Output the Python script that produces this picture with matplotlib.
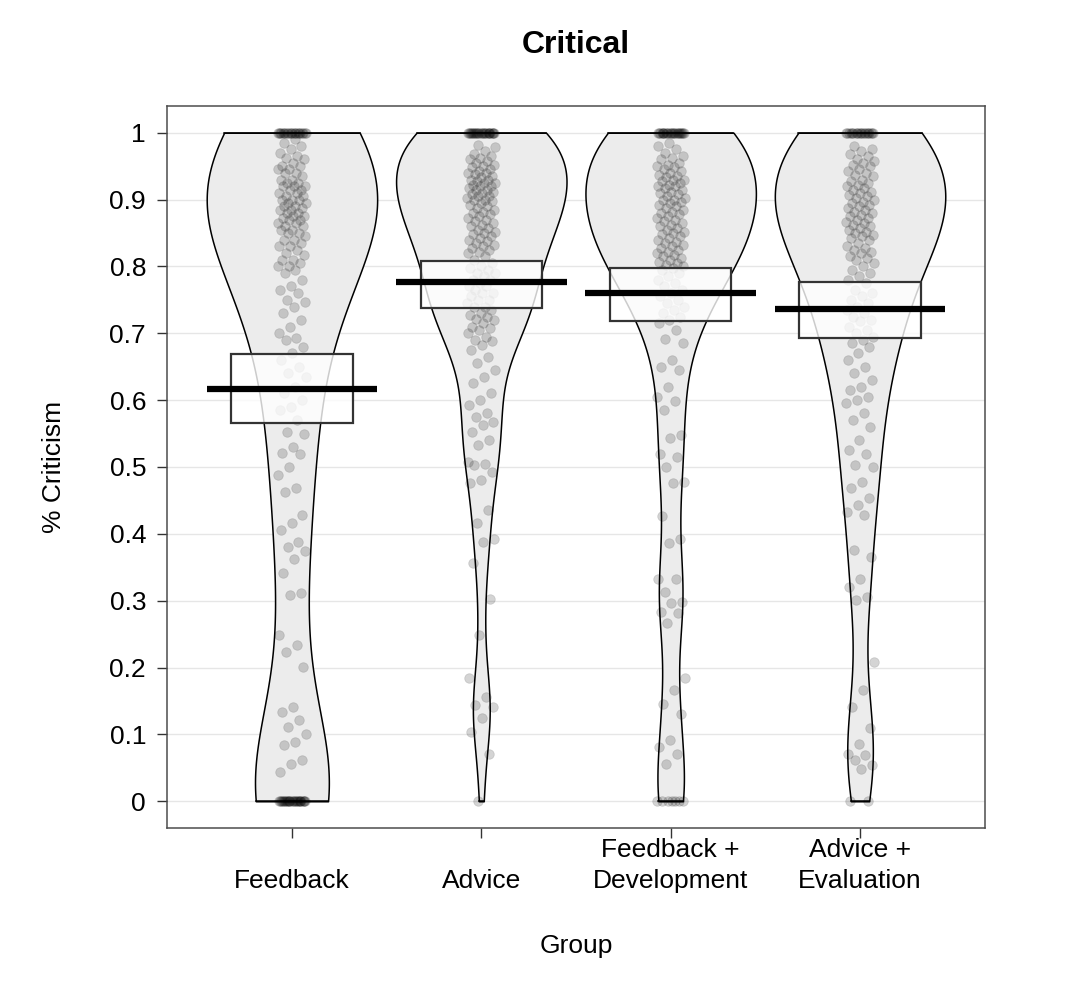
import numpy as np
import matplotlib
matplotlib.use("Agg")
import matplotlib.pyplot as plt

plt.rcParams['font.family'] = ['Liberation Sans', 'DejaVu Sans']

groups = ["Feedback", "Advice", "Feedback +\nDevelopment", "Advice +\nEvaluation"]

# proportion of criticism per response
feedback = [1.0] * 22 + [
    0.99, 0.985, 0.98, 0.975, 0.97, 0.965, 0.962, 0.96, 0.955, 0.95, 0.95, 0.945,
    0.945, 0.94, 0.94, 0.935, 0.93, 0.93, 0.925, 0.925, 0.92, 0.92, 0.92, 0.915,
    0.915, 0.91, 0.91, 0.905, 0.905, 0.90, 0.90, 0.90, 0.895, 0.895, 0.89, 0.89,
    0.888, 0.885, 0.885, 0.88, 0.88, 0.875, 0.875, 0.873, 0.87, 0.87, 0.865, 0.865,
    0.86, 0.86, 0.855, 0.855, 0.85, 0.85, 0.845, 0.84, 0.84, 0.835, 0.83, 0.83,
    0.825, 0.82, 0.817, 0.81, 0.81, 0.805, 0.80, 0.80, 0.795,
    0.79, 0.78, 0.77, 0.765, 0.76, 0.75, 0.747, 0.74, 0.73, 0.72, 0.71, 0.70,
    0.693, 0.69, 0.68, 0.67, 0.66, 0.65, 0.64, 0.635, 0.62, 0.61,
    0.60, 0.59, 0.585, 0.57, 0.553, 0.55, 0.53, 0.521, 0.52, 0.50,
    0.488, 0.468, 0.463, 0.428, 0.416, 0.406, 0.388, 0.381, 0.375, 0.362, 0.342,
    0.311, 0.309, 0.249, 0.234, 0.224, 0.201, 0.141, 0.134, 0.121, 0.111, 0.101,
    0.089, 0.084, 0.061, 0.056, 0.044] + [0.0] * 28

advice = [1.0] * 26 + [
    0.982, 0.978, 0.972, 0.968, 0.965, 0.962, 0.96, 0.958, 0.955, 0.952, 0.95, 0.948,
    0.945, 0.943, 0.94, 0.94, 0.938, 0.935, 0.933, 0.93, 0.93, 0.928, 0.925, 0.925,
    0.922, 0.92, 0.92, 0.918, 0.915, 0.915, 0.912, 0.91, 0.908, 0.905, 0.905, 0.902,
    0.90, 0.90, 0.898, 0.895, 0.892, 0.89, 0.888, 0.885, 0.882, 0.88, 0.878, 0.875,
    0.872, 0.87, 0.868, 0.865, 0.862, 0.86, 0.858, 0.855, 0.852, 0.85, 0.848, 0.845,
    0.842, 0.84, 0.838, 0.835, 0.832, 0.83, 0.828, 0.825, 0.822, 0.82, 0.815, 0.81,
    0.805, 0.80, 0.798, 0.795, 0.79, 0.79, 0.785, 0.78, 0.78, 0.775, 0.77, 0.77,
    0.765, 0.76, 0.76, 0.755, 0.75, 0.75, 0.745, 0.74, 0.74, 0.735, 0.73, 0.728,
    0.725, 0.722, 0.72, 0.715, 0.71, 0.708, 0.705, 0.70, 0.695, 0.69, 0.688, 0.683,
    0.675, 0.665, 0.655, 0.645, 0.635, 0.625, 0.61, 0.60, 0.593, 0.58, 0.575,
    0.568, 0.563, 0.553, 0.54, 0.533, 0.508, 0.505, 0.503, 0.493, 0.481, 0.476,
    0.436, 0.416, 0.393, 0.388, 0.356, 0.303, 0.249, 0.184, 0.156, 0.144, 0.141,
    0.124, 0.104, 0.071, 0.0]

feedback_dev = [1.0] * 24 + [
    0.985, 0.98, 0.975, 0.97, 0.965, 0.962, 0.96, 0.955, 0.952, 0.95, 0.948, 0.945,
    0.942, 0.94, 0.937, 0.935, 0.933, 0.93, 0.93, 0.928, 0.925, 0.922, 0.92, 0.92,
    0.918, 0.915, 0.912, 0.91, 0.908, 0.905, 0.902, 0.90, 0.90, 0.897, 0.895, 0.892,
    0.89, 0.888, 0.885, 0.882, 0.88, 0.878, 0.875, 0.872, 0.87, 0.868, 0.865, 0.862,
    0.86, 0.857, 0.855, 0.852, 0.85, 0.848, 0.845, 0.842, 0.84, 0.837, 0.835, 0.832,
    0.83, 0.828, 0.825, 0.822, 0.82, 0.817, 0.815, 0.812, 0.81, 0.807, 0.805, 0.802,
    0.80, 0.798, 0.795, 0.79, 0.785, 0.78, 0.775, 0.77, 0.765, 0.76, 0.755, 0.75,
    0.745, 0.74, 0.735, 0.73, 0.725, 0.72, 0.715, 0.705, 0.692, 0.685,
    0.66, 0.65, 0.645, 0.62, 0.605, 0.598, 0.585, 0.548, 0.543, 0.52, 0.515, 0.50,
    0.478, 0.476, 0.426, 0.393, 0.386, 0.333, 0.333, 0.313, 0.298, 0.296, 0.283,
    0.282, 0.266, 0.184, 0.166, 0.146, 0.131, 0.091, 0.081, 0.071, 0.056] + [0.0] * 7

advice_eval = [1.0] * 20 + [
    0.98, 0.975, 0.972, 0.968, 0.965, 0.96, 0.958, 0.955, 0.952, 0.95, 0.945, 0.942,
    0.94, 0.937, 0.935, 0.93, 0.928, 0.925, 0.922, 0.92, 0.918, 0.915, 0.912, 0.91,
    0.907, 0.905, 0.902, 0.90, 0.897, 0.895, 0.892, 0.89, 0.887, 0.885, 0.882, 0.88,
    0.877, 0.875, 0.872, 0.87, 0.867, 0.865, 0.862, 0.86, 0.857, 0.855, 0.852, 0.85,
    0.847, 0.845, 0.842, 0.84, 0.835, 0.83, 0.827, 0.825, 0.822, 0.82, 0.815, 0.812,
    0.81, 0.805, 0.80, 0.795, 0.79, 0.785, 0.78, 0.775, 0.765, 0.76, 0.755, 0.75,
    0.745, 0.74, 0.735, 0.73, 0.725, 0.72, 0.718, 0.71, 0.705, 0.70, 0.695, 0.69,
    0.685, 0.68, 0.67, 0.66, 0.65, 0.64, 0.63, 0.62, 0.615, 0.605, 0.60, 0.595,
    0.58, 0.57, 0.56, 0.54, 0.525, 0.52, 0.503, 0.50, 0.478, 0.468, 0.453, 0.443,
    0.433, 0.428, 0.376, 0.366, 0.333, 0.321, 0.306, 0.301, 0.209, 0.166, 0.141,
    0.109, 0.086, 0.071, 0.069, 0.061, 0.054, 0.049] + [0.0] * 2

# group means and inference band limits
means = [0.617, 0.777, 0.760, 0.736]
ci_low = [0.566, 0.738, 0.718, 0.693]
ci_high = [0.669, 0.808, 0.798, 0.776]

data = [feedback, advice, feedback_dev, advice_eval]


def kde(vals, grid):
    vals = np.asarray(vals)
    n = len(vals)
    q75, q25 = np.percentile(vals, [75, 25])
    lo = min(vals.std(ddof=1), (q75 - q25) / 1.34)
    bw = 0.9 * lo * n ** -0.2
    z = (grid[:, None] - vals[None, :]) / bw
    return np.exp(-0.5 * z ** 2).sum(axis=1)


fig = plt.figure(figsize=(10.84, 9.94), dpi=100)
ax = fig.add_axes([0.154, 0.167, 0.7547, 0.7264])

for y in np.arange(0, 1.01, 0.1):
    ax.axhline(y, color='#e6e6e6', lw=1, zorder=0)

for i, vals in enumerate(data):
    x0 = i + 1
    vals = np.asarray(vals)
    grid = np.linspace(vals.min(), vals.max(), 400)
    d = kde(vals, grid)
    w = d / d.max() * 0.45
    ax.fill_betweenx(grid, x0 - w, x0 + w, facecolor='#ececec', edgecolor='black',
                     lw=1.1, zorder=1)
    ax.plot([x0 - w[0], x0 + w[0]], [grid[0]] * 2, color='black', lw=1.1, zorder=1)
    ax.plot([x0 - w[-1], x0 + w[-1]], [grid[-1]] * 2, color='black', lw=1.1, zorder=1)

    k = np.arange(len(vals))
    jit = ((k * 0.6180339887 + 0.31 * i) % 1.0 - 0.5) * 0.15
    ax.scatter(x0 + jit, vals, s=48, facecolor=(0, 0, 0, 0.17),
               edgecolor=(0, 0, 0, 0.12), linewidths=0.6, zorder=2)

    ax.add_patch(plt.Rectangle((x0 - 0.32, ci_low[i]), 0.64, ci_high[i] - ci_low[i],
                               facecolor=(1, 1, 1, 0.8), edgecolor='#333333', lw=1.6,
                               zorder=3))
    ax.plot([x0 - 0.45, x0 + 0.45], [means[i]] * 2, color='black', lw=4.5,
            solid_capstyle='butt', zorder=4)

ax.set_xlim(0.34, 4.66)
ax.set_ylim(-0.04, 1.04)
ax.set_yticks(np.arange(0, 1.01, 0.1))
ax.set_yticklabels(['0', '0.1', '0.2', '0.3', '0.4', '0.5', '0.6', '0.7', '0.8', '0.9', '1'])
ax.set_xticks([1, 2, 3, 4])
ax.set_xticklabels(groups)
for lab in ax.get_xticklabels():
    lab.set_verticalalignment('bottom')
    lab.set_linespacing(1.4)

ax.tick_params(axis='both', labelsize=19, length=7, width=1, color='#333333')
ax.tick_params(axis='x', pad=40)
ax.tick_params(axis='y', pad=8)
for s in ax.spines.values():
    s.set_color('#4d4d4d')
    s.set_linewidth(1.1)

ax.set_title('Critical', fontsize=23, fontweight='bold', pad=38)
ax.set_xlabel('Group', fontsize=19, labelpad=29)
ax.set_ylabel('% Criticism', fontsize=19, labelpad=31)

fig.savefig('out.png', dpi=100)
